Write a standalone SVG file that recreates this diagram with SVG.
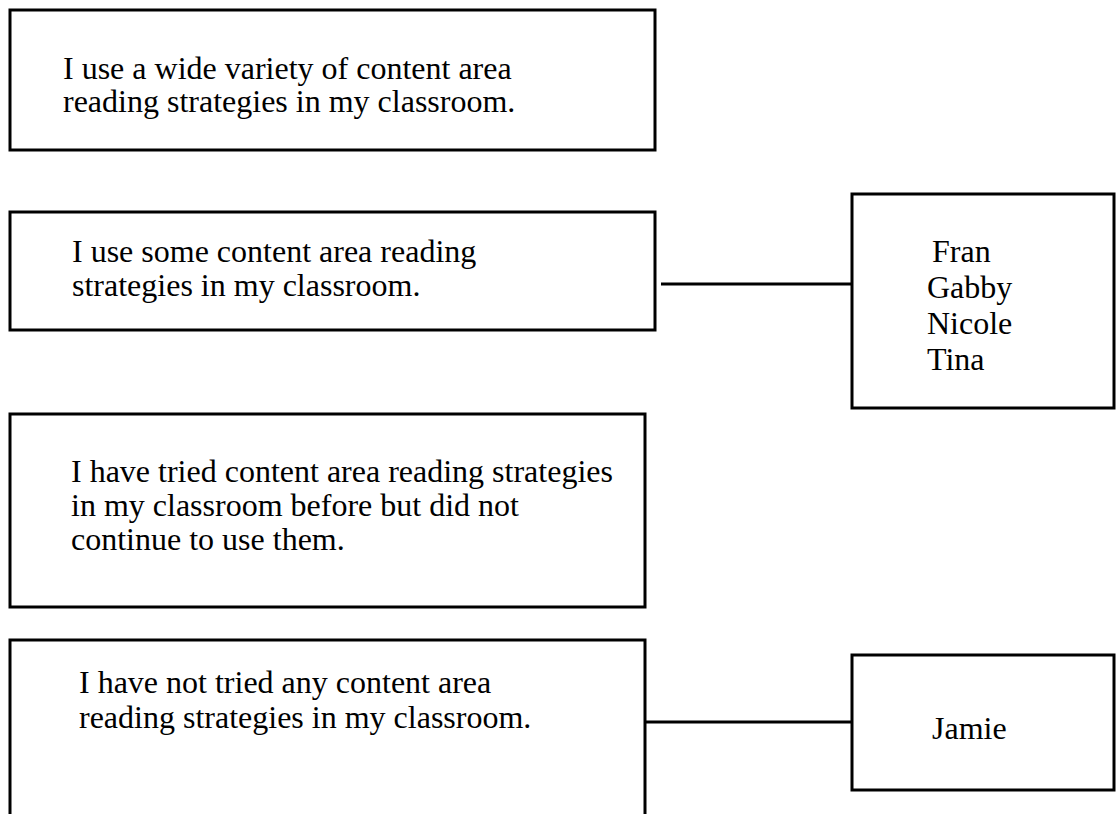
<svg xmlns="http://www.w3.org/2000/svg" width="1117" height="814" viewBox="0 0 1117 814">
<style>
.box{fill:#fff;stroke:#000;stroke-width:3}
.t{font-family:"Liberation Serif","Times New Roman",serif;font-size:32px;fill:#000}
.c{stroke:#000;stroke-width:3;fill:none}
</style>
<rect width="1117" height="814" fill="#fff"/>
<g id="connectors">
<line class="c" x1="661" y1="284" x2="852" y2="284"/>
<line class="c" x1="646" y1="722" x2="852" y2="722"/>
</g>
<g id="n1">
<rect class="box" x="10" y="10" width="645" height="140"/>
<text class="t" x="63" y="79">I use a wide variety of content area</text>
<text class="t" x="63" y="112">reading strategies in my classroom.</text>
</g>
<g id="n2">
<rect class="box" x="10" y="212" width="645" height="118"/>
<text class="t" x="72" y="262">I use some content area reading</text>
<text class="t" x="72" y="296">strategies in my classroom.</text>
</g>
<g id="n3">
<rect class="box" x="10" y="414" width="635" height="193"/>
<text class="t" x="71" y="482">I have tried content area reading strategies</text>
<text class="t" x="71" y="516">in my classroom before but did not</text>
<text class="t" x="71" y="550">continue to use them.</text>
</g>
<g id="n4">
<rect class="box" x="10" y="640" width="635" height="190"/>
<text class="t" x="79" y="693">I have not tried any content area</text>
<text class="t" x="79" y="728">reading strategies in my classroom.</text>
</g>
<g id="n5">
<rect class="box" x="852" y="194" width="262" height="214"/>
<text class="t" x="932" y="262">Fran</text>
<text class="t" x="927" y="298">Gabby</text>
<text class="t" x="927" y="334">Nicole</text>
<text class="t" x="927" y="370">Tina</text>
</g>
<g id="n6">
<rect class="box" x="852" y="655" width="262" height="135"/>
<text class="t" x="932" y="739">Jamie</text>
</g>
</svg>
